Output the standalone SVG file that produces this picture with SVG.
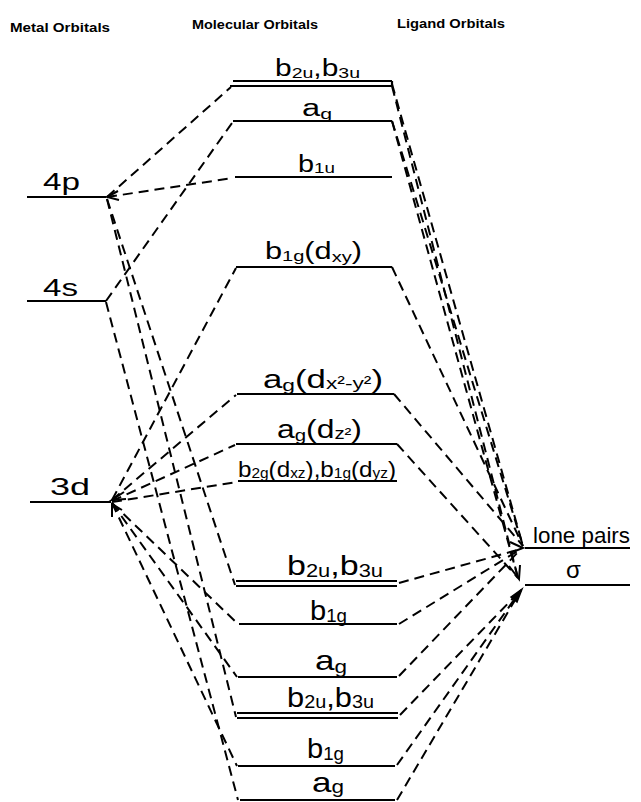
<svg xmlns="http://www.w3.org/2000/svg" width="641" height="802" viewBox="0 0 641 802">
<style>
 .lv{stroke:#000;stroke-width:2.2;fill:none}
 .cn{stroke:#000;stroke-width:2;fill:none;stroke-dasharray:10 6}
 .ah{stroke:#000;stroke-width:2;fill:none;stroke-linejoin:miter}
 text{font-family:"Liberation Sans",Arial,sans-serif;fill:#000}
 .hd{font-size:12px;font-weight:bold}
 .mt{font-size:24px}
 .mo{font-size:23px}
 .s{font-size:15px}
 .big{font-size:28px}
 .sb{font-size:18px}
</style>
<rect width="641" height="802" fill="#fff"/>

<g id="headers">
 <text class="hd" x="10" y="32" textLength="100" lengthAdjust="spacingAndGlyphs">Metal Orbitals</text>
 <text class="hd" x="192" y="29" textLength="126" lengthAdjust="spacingAndGlyphs">Molecular Orbitals</text>
 <text class="hd" x="397" y="28" textLength="108" lengthAdjust="spacingAndGlyphs">Ligand Orbitals</text>
</g>

<g id="connectors">
 <!-- metal side -->
 <line class="cn" x1="107" y1="197" x2="231" y2="87"/>
 <line class="cn" x1="107" y1="197" x2="233" y2="178"/>
 <line class="cn" x1="107" y1="199" x2="235" y2="585"/>
 <line class="cn" x1="107" y1="199" x2="236" y2="717"/>
 <line class="cn" x1="106" y1="301" x2="232" y2="123"/>
 <line class="cn" x1="106" y1="302" x2="238" y2="800"/>
 <line class="cn" x1="112" y1="500" x2="236" y2="268"/>
 <line class="cn" x1="112" y1="500" x2="236" y2="395"/>
 <line class="cn" x1="112" y1="501" x2="235" y2="445"/>
 <line class="cn" x1="112" y1="502" x2="237" y2="482"/>
 <line class="cn" x1="112" y1="503" x2="238" y2="624"/>
 <line class="cn" x1="112" y1="503" x2="237" y2="677"/>
 <line class="cn" x1="112" y1="503" x2="237" y2="766"/>
 <!-- ligand side, upper -->
 <line class="cn" x1="392" y1="84" x2="523" y2="546"/>
 <line class="cn" x1="392" y1="86" x2="518" y2="578"/>
 <line class="cn" x1="392" y1="121" x2="523" y2="546"/>
 <line class="cn" x1="392" y1="121" x2="518" y2="578"/>
 <line class="cn" x1="392" y1="267" x2="523" y2="546"/>
 <line class="cn" x1="394" y1="394" x2="523" y2="546"/>
 <line class="cn" x1="397" y1="444" x2="518" y2="578"/>
 <!-- ligand side, lower -->
 <line class="cn" x1="399" y1="583" x2="521" y2="549"/>
 <line class="cn" x1="399" y1="624" x2="521" y2="549"/>
 <line class="cn" x1="399" y1="676" x2="521" y2="549"/>
 <line class="cn" x1="400" y1="715" x2="521" y2="590"/>
 <line class="cn" x1="397" y1="765" x2="521" y2="590"/>
 <line class="cn" x1="397" y1="800" x2="521" y2="590"/>
 <!-- hand-drawn arrowheads -->
 <polyline class="ah" points="118,191 107,197 119,200"/>
 <polyline class="ah" points="124,492 112,500 126,499"/>
 <polyline class="ah" points="112,517 112,504 122,510"/>
 <polyline class="ah" points="510,542 523,548 510,553"/>
 <polyline class="ah" points="509,566 519,579 520,565"/>
 <polygon points="522,589 511,597 517,602" fill="#000" stroke="#000" stroke-width="1.5"/>
</g>

<g id="metal-4p">
 <line class="lv" x1="27" y1="197" x2="106" y2="197"/>
 <text class="mt" x="43" y="190" textLength="37" lengthAdjust="spacingAndGlyphs">4p</text>
</g>
<g id="metal-4s">
 <line class="lv" x1="27" y1="301" x2="106" y2="301"/>
 <text class="mt" x="43" y="296" textLength="35" lengthAdjust="spacingAndGlyphs">4s</text>
</g>
<g id="metal-3d">
 <line class="lv" x1="30" y1="502" x2="111" y2="502"/>
 <text class="mt" x="50" y="495" textLength="40" lengthAdjust="spacingAndGlyphs">3d</text>
</g>

<g id="mo-b2u-b3u-top">
 <line class="lv" x1="233" y1="81" x2="392" y2="81"/>
 <line class="lv" x1="230" y1="86" x2="392" y2="86"/>
 <line class="lv" x1="392" y1="81" x2="392" y2="86"/>
 <text class="mo" x="275" y="76" textLength="85" lengthAdjust="spacingAndGlyphs">b<tspan class="s" dy="2">2u</tspan><tspan dy="-2">,b</tspan><tspan class="s" dy="2">3u</tspan></text>
</g>
<g id="mo-ag-top">
 <line class="lv" x1="233" y1="121" x2="392" y2="121"/>
 <text class="mo" x="302" y="116" textLength="30" lengthAdjust="spacingAndGlyphs">a<tspan class="s" dy="3">g</tspan></text>
</g>
<g id="mo-b1u">
 <line class="lv" x1="235" y1="177" x2="392" y2="177"/>
 <text class="mo" x="298" y="172" textLength="37" lengthAdjust="spacingAndGlyphs">b<tspan class="s" dy="1">1u</tspan></text>
</g>
<g id="mo-b1g-dxy">
 <line class="lv" x1="236" y1="267" x2="392" y2="267"/>
 <text class="mo" x="265" y="259" textLength="97" lengthAdjust="spacingAndGlyphs">b<tspan class="s" dy="2">1g</tspan><tspan dy="-2">(d</tspan><tspan class="s" dy="3">xy</tspan><tspan dy="-3">)</tspan></text>
</g>
<g id="mo-ag-dx2y2">
 <line class="lv" x1="237" y1="394" x2="394" y2="394"/>
 <text x="263" y="388" font-size="26" textLength="120" lengthAdjust="spacingAndGlyphs">a<tspan font-size="17" dy="3">g</tspan><tspan dy="-3">(d</tspan><tspan font-size="17" dy="1">x²-y²</tspan><tspan dy="-1">)</tspan></text>
</g>
<g id="mo-ag-dz2">
 <line class="lv" x1="236" y1="444" x2="397" y2="444"/>
 <text x="277" y="438" font-size="25" textLength="85" lengthAdjust="spacingAndGlyphs">a<tspan font-size="16" dy="3">g</tspan><tspan dy="-3">(d</tspan><tspan font-size="16" dy="1">z²</tspan><tspan dy="-1">)</tspan></text>
</g>
<g id="mo-b2g-b1g-dxz-dyz">
 <line class="lv" x1="238" y1="481" x2="397" y2="481"/>
 <text x="238" y="477" font-size="22" textLength="158" lengthAdjust="spacingAndGlyphs">b<tspan font-size="14" dy="1">2g</tspan><tspan dy="-1">(d</tspan><tspan font-size="14" dy="1">xz</tspan><tspan dy="-1">),b</tspan><tspan font-size="14" dy="1">1g</tspan><tspan dy="-1">(d</tspan><tspan font-size="14" dy="1">yz</tspan><tspan dy="-1">)</tspan></text>
</g>
<g id="mo-b2u-b3u-mid">
 <line class="lv" x1="236" y1="581" x2="397" y2="581"/>
 <line class="lv" x1="236" y1="586" x2="397" y2="586"/>
 <text class="big" x="287" y="575" textLength="96" lengthAdjust="spacingAndGlyphs">b<tspan class="sb" dy="2">2u</tspan><tspan dy="-2">,b</tspan><tspan class="sb" dy="2">3u</tspan></text>
</g>
<g id="mo-b1g-mid">
 <line class="lv" x1="239" y1="624" x2="397" y2="624"/>
 <text class="big" x="310" y="620" textLength="37" lengthAdjust="spacingAndGlyphs">b<tspan class="sb" dy="2">1g</tspan></text>
</g>
<g id="mo-ag-mid">
 <line class="lv" x1="238" y1="677" x2="397" y2="677"/>
 <text class="big" x="315" y="670" textLength="32" lengthAdjust="spacingAndGlyphs">a<tspan class="sb" dy="3">g</tspan></text>
</g>
<g id="mo-b2u-b3u-low">
 <line class="lv" x1="237" y1="713" x2="398" y2="713"/>
 <line class="lv" x1="237" y1="718" x2="398" y2="718"/>
 <text class="big" x="287" y="707" textLength="87" lengthAdjust="spacingAndGlyphs">b<tspan class="sb" dy="1">2u</tspan><tspan dy="-1">,b</tspan><tspan class="sb" dy="1">3u</tspan></text>
</g>
<g id="mo-b1g-low">
 <line class="lv" x1="238" y1="766" x2="395" y2="766"/>
 <text class="big" x="307" y="758" textLength="37" lengthAdjust="spacingAndGlyphs">b<tspan class="sb" dy="2">1g</tspan></text>
</g>
<g id="mo-ag-low">
 <line class="lv" x1="240" y1="800" x2="395" y2="800"/>
 <text class="big" x="312" y="792" textLength="32" lengthAdjust="spacingAndGlyphs">a<tspan class="sb" dy="1">g</tspan></text>
</g>

<g id="lig-lone-pairs">
 <line class="lv" x1="525" y1="548" x2="630" y2="548"/>
 <text x="533" y="543" font-size="22" textLength="97" lengthAdjust="spacingAndGlyphs">lone pairs</text>
</g>
<g id="lig-sigma">
 <line class="lv" x1="525" y1="585" x2="630" y2="585"/>
 <text x="566" y="578" font-size="24">σ</text>
</g>
</svg>
